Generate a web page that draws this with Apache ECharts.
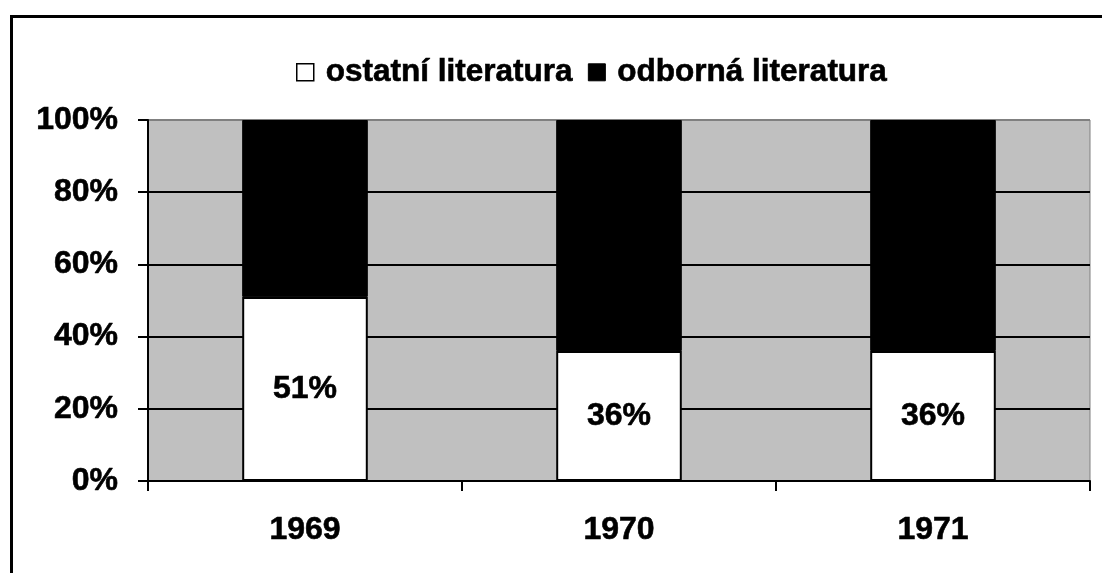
<!DOCTYPE html>
<html>
<head>
<meta charset="utf-8">
<script src="https://cdn.jsdelivr.net/npm/echarts@6/dist/echarts.min.js"></script>
<style>html,body{margin:0;padding:0;background:#fff}#c{width:1102px;height:573px}</style>
</head>
<body>
<div id="c"></div>
<script>
const categories = ['1969', '1970', '1971'];
const ostatni = [51, 36, 36];
const odborna = [49, 64, 64];
const seriesNames = ['ostatní literatura', 'odborná literatura'];

const FONT = "'Liberation Sans', Arial, sans-serif";
const TXT = {fontFamily: FONT, fontWeight: 'bold', fontSize: 32, color: '#000', textBorderColor: '#000', textBorderWidth: 0.6};
const chart = echarts.init(document.getElementById('c'), null, {renderer: 'canvas'});
chart.setOption({
  animation: false,
  backgroundColor: '#fff',
  textStyle: {fontFamily: FONT},
  graphic: [{
    type: 'rect', left: 9, top: 14, z: 100,
    shape: {x: 0, y: 0, width: 1200, height: 700},
    style: {fill: 'none', stroke: '#000', lineWidth: 3}
  }],
  legend: {
    left: 291, top: 51,
    itemWidth: 17, itemHeight: 17, itemGap: 15,
    icon: 'rect',
    textStyle: Object.assign({}, TXT, {fontSize: 31.5, padding: [0, 0, 0, 7]}),
    data: [
      {name: seriesNames[0], itemStyle: {color: '#fff', borderColor: '#000', borderWidth: 1.5}},
      {name: seriesNames[1], itemStyle: {color: '#000', borderColor: '#000', borderWidth: 1}}
    ]
  },
  grid: {
    left: 148, top: 120, right: 12, bottom: 92,
    show: true, backgroundColor: '#c0c0c0', borderColor: '#808080', borderWidth: 1
  },
  xAxis: {
    type: 'category', data: categories,
    axisLine: {lineStyle: {color: '#000', width: 2}},
    axisTick: {show: true, length: 10, lineStyle: {color: '#000', width: 2}},
    axisLabel: Object.assign({}, TXT, {margin: 33})
  },
  yAxis: {
    type: 'value', min: 0, max: 100, interval: 20,
    axisLine: {show: true, lineStyle: {color: '#000', width: 2}},
    axisTick: {show: true, length: 10, lineStyle: {color: '#000', width: 2}},
    axisLabel: Object.assign({}, TXT, {formatter: '{value}%', margin: 30}),
    splitLine: {show: true, lineStyle: {color: ['#000', '#000', '#000', '#000', '#000', '#808080'], width: 2}}
  },
  series: [
    {
      name: seriesNames[0], type: 'bar', stack: 'a', data: ostatni, barWidth: '40%',
      itemStyle: {color: '#fff', borderColor: '#000', borderWidth: 2},
      label: Object.assign({show: true, position: 'inside', formatter: '{c}%'}, TXT)
    },
    {
      name: seriesNames[1], type: 'bar', stack: 'a', data: odborna, barWidth: '40%',
      itemStyle: {color: '#000', borderColor: '#000', borderWidth: 1}
    }
  ]
});
</script>
</body>
</html>
